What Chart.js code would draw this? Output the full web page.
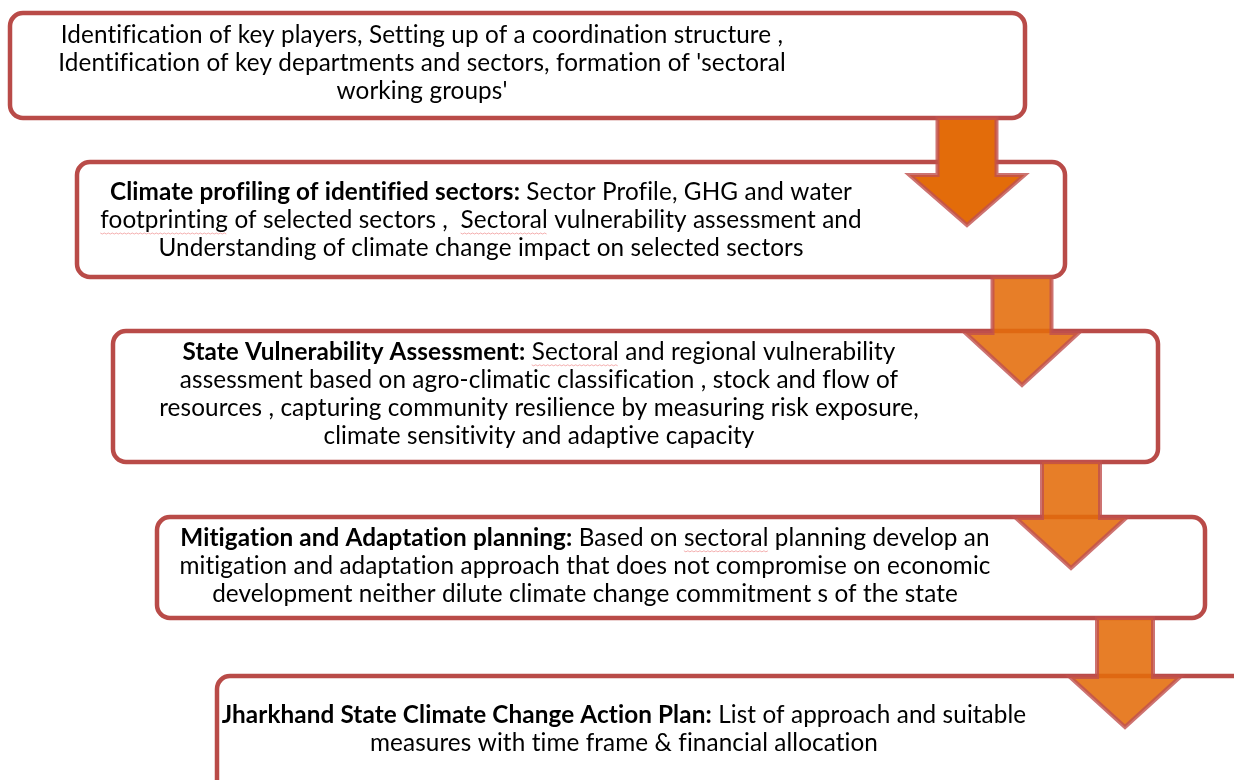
<!DOCTYPE html>
<html>
<head>
<meta charset="utf-8">
<script src="https://cdn.jsdelivr.net/npm/chart.js@4"></script>
<style>
  html, body { margin: 0; padding: 0; background: #fff; }
  #wrap { width: 1234px; height: 780px; position: relative; }
</style>
</head>
<body>
<div id="wrap"><canvas id="flow"></canvas></div>
<script>
// step texts (bold lead-in + wrapped lines as in the source document)
var stepTitles = [
    '',
    'Climate profiling of identified sectors:',
    'State Vulnerability Assessment:',
    'Mitigation and Adaptation planning:',
    'Jharkhand State Climate Change Action Plan:'
];
var stepLines = [
    ["Identification of key players, Setting up of a coordination structure ,",
     "Identification of key departments and sectors, formation of 'sectoral",
     "working groups'"],
    [" Sector Profile, GHG and water",
     "footprinting of selected sectors ,  Sectoral vulnerability assessment and",
     "Understanding of climate change impact on selected sectors"],
    [" Sectoral and regional vulnerability",
     "assessment based on agro-climatic classification , stock and flow of",
     "resources , capturing community resilience by measuring risk exposure,",
     "climate sensitivity and adaptive capacity"],
    [" Based on sectoral planning develop an",
     "mitigation and adaptation approach that does not compromise on economic",
     "development neither dilute climate change commitment s of the state"],
    [" List of approach and suitable",
     "measures with time frame & financial allocation"]
];
// words carrying the spell-check squiggle
var flaggedWords = [[], ['footprinting', 'Sectoral'], ['Sectoral'], ['sectoral'], []];

// layout (in page units of the hidden linear scales)
var boxes = [
    { x0: 10,  x1: 1025, y0: 13,  y1: 118, cx: 422, ty: 35 },
    { x0: 77,  x1: 1065, y0: 162, y1: 277, cx: 481, ty: 192 },
    { x0: 113, x1: 1158, y0: 331, y1: 462, cx: 539, ty: 352 },
    { x0: 157, x1: 1205, y0: 517, y1: 618, cx: 585, ty: 538 },
    { x0: 217, x1: 1262, y0: 676, y1: 812, cx: 624, ty: 715 }
];
var arrows = [
    { cx: 967,  sw: 29.5, hw: 57.5, y0: 118, yh: 175, yt: 225, fill: 'rgb(227,108,10)' },
    { cx: 1022, sw: 29.5, hw: 56.5, y0: 277, yh: 333, yt: 385, fill: 'rgba(228,108,10,0.88)' },
    { cx: 1071, sw: 29,   hw: 55,   y0: 462, yh: 518, yt: 568, fill: 'rgba(228,108,10,0.88)' },
    { cx: 1125, sw: 28,   hw: 55,   y0: 618, yh: 677, yt: 727, fill: 'rgba(228,108,10,0.88)' }
];

var FONT = 'Lato, sans-serif';
var FONT_SIZE = 24.3;
var LINE_H = 28.2;

function roundRect( ctx, x, y, w, h, r ){
    ctx.beginPath();
    ctx.moveTo( x + r, y );
    ctx.lineTo( x + w - r, y );
    ctx.arcTo( x + w, y, x + w, y + r, r );
    ctx.lineTo( x + w, y + h - r );
    ctx.arcTo( x + w, y + h, x + w - r, y + h, r );
    ctx.lineTo( x + r, y + h );
    ctx.arcTo( x, y + h, x, y + h - r, r );
    ctx.lineTo( x, y + r );
    ctx.arcTo( x, y, x + r, y, r );
    ctx.closePath();
}

var flowPlugin = {
    id: 'flow',
    afterDatasetsDraw: function( chart ){
        var ctx = chart.ctx;
        var sx = chart.scales.x, sy = chart.scales.y;
        var px = function( v ){ return sx.getPixelForValue( v ); };
        var py = function( v ){ return sy.getPixelForValue( v ); };

        ctx.save();
        // tiny spacing keeps Lato from forming fi/ti ligatures
        if( 'letterSpacing' in ctx ) ctx.letterSpacing = '0.1px';
        // boxes + text
        boxes.forEach( function( b, i ){
            var x0 = px( b.x0 ), x1 = px( b.x1 ), y0 = py( b.y0 ), y1 = py( b.y1 );
            roundRect( ctx, x0, y0, x1 - x0, y1 - y0, 13 );
            ctx.fillStyle = '#ffffff';
            ctx.fill();
            ctx.lineWidth = 4.5;
            ctx.strokeStyle = '#b94b48';
            ctx.stroke();

            ctx.textBaseline = 'middle';
            ctx.fillStyle = '#000000';
            stepLines[i].forEach( function( line, k ){
                var title = ( k === 0 ) ? stepTitles[i] : '';
                ctx.font = 'bold ' + FONT_SIZE + 'px ' + FONT;
                var wb = title ? ctx.measureText( title ).width : 0;
                ctx.font = FONT_SIZE + 'px ' + FONT;
                var wn = ctx.measureText( line ).width;
                var left = px( b.cx ) - ( wb + wn ) / 2;
                var y = py( b.ty + k * LINE_H );
                if( title ){
                    ctx.font = 'bold ' + FONT_SIZE + 'px ' + FONT;
                    ctx.textAlign = 'left';
                    ctx.fillText( title, left, y );
                }
                ctx.font = FONT_SIZE + 'px ' + FONT;
                ctx.textAlign = 'left';
                ctx.fillText( line, left + wb, y );

                // spell-check squiggles
                flaggedWords[i].forEach( function( w ){
                    var at = line.indexOf( w );
                    if( at < 0 ) return;
                    var sx0 = left + wb + ctx.measureText( line.slice( 0, at ) ).width;
                    var sw = ctx.measureText( w ).width;
                    ctx.beginPath();
                    for( var t = 0; t <= sw; t += 2 ){
                        var yy = y + 13 + ( ( t / 2 ) % 2 ? 0.8 : -0.2 );
                        if( t === 0 ) ctx.moveTo( sx0 + t, yy ); else ctx.lineTo( sx0 + t, yy );
                    }
                    ctx.lineWidth = 1;
                    ctx.strokeStyle = 'rgba(230,80,80,0.45)';
                    ctx.stroke();
                });
            });
        });

        // block arrows
        arrows.forEach( function( a ){
            ctx.beginPath();
            ctx.moveTo( px( a.cx - a.sw ), py( a.y0 ) );
            ctx.lineTo( px( a.cx + a.sw ), py( a.y0 ) );
            ctx.lineTo( px( a.cx + a.sw ), py( a.yh ) );
            ctx.lineTo( px( a.cx + a.hw ), py( a.yh ) );
            ctx.lineTo( px( a.cx ), py( a.yt ) );
            ctx.lineTo( px( a.cx - a.hw ), py( a.yh ) );
            ctx.lineTo( px( a.cx - a.sw ), py( a.yh ) );
            ctx.closePath();
            ctx.fillStyle = a.fill;
            ctx.fill();
            ctx.lineJoin = 'miter';
            ctx.lineWidth = 4;
            ctx.strokeStyle = 'rgba(192,80,77,0.8)';
            ctx.stroke();
        });
        ctx.restore();
    }
};

var ctx = document.getElementById( 'flow' ).getContext( '2d' );
var flowChart = new Chart( ctx, {
    type: 'scatter',
    data: {
        datasets: [{
            data: boxes.map( function( b ){ return { x: ( b.x0 + b.x1 ) / 2, y: ( b.y0 + b.y1 ) / 2 }; }),
            pointRadius: 0
        }]
    },
    options: {
        responsive: true,
        maintainAspectRatio: false,
        animation: false,
        layout: { padding: 0 },
        plugins: { legend: { display: false }, tooltip: { enabled: false } },
        scales: {
            x: { type: 'linear', min: 0, max: 1234, display: false },
            y: { type: 'linear', min: 0, max: 780, reverse: true, display: false }
        }
    },
    plugins: [ flowPlugin ]
});
</script>
</body>
</html>
